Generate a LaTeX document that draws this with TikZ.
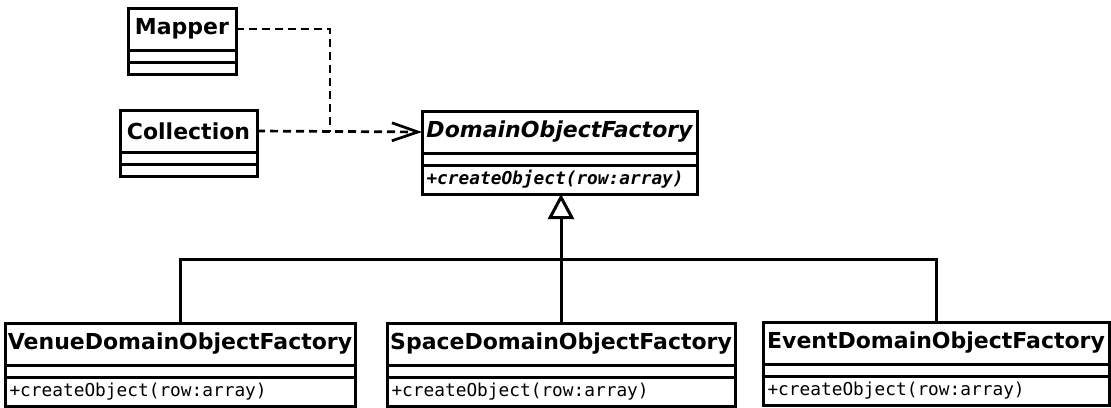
\documentclass[tikz,border=0pt]{standalone}
\usepackage{fontspec}
\setmainfont{DejaVu Sans}
\setmonofont{DejaVu Sans Mono}
\usepackage{tikz}
\usetikzlibrary{positioning}
\usetikzlibrary{arrows,arrows.meta}

\begin{document}
\begin{tikzpicture}[x=1pt, y=-1pt, line width=3pt,
	ctitle/.style={draw, outer sep=0pt, inner sep=0pt, minimum height=42pt, font=\fontsize{22}{26}\selectfont\bfseries},
	cattr/.style={draw, outer sep=0pt, inner sep=0pt, minimum height=12pt},
	cmeth/.style={draw, outer sep=0pt, inner xsep=4.5pt, inner ysep=0pt, minimum height=29pt, align=left, font=\fontsize{17.8}{20}\selectfont\ttfamily},
	dep/.style={dashed, dash pattern=on 8pt off 5pt, line width=2.7pt},
	inh/.style={-{Triangle[open, length=25pt, width=26pt]}}]

	\useasboundingbox (0,0) rectangle (1111,407);

	% Mapper
	\node[ctitle, minimum width=108pt, anchor=north west] (mapper) at (128,8) {Mapper};
	\node[cattr, minimum width=108pt, below=0pt of mapper] (mappera) {};
	\node[cattr, minimum width=108pt, below=0pt of mappera] (mapperm) {};

	% Collection
	\node[ctitle, minimum width=137pt, anchor=north west] (coll) at (120,110) {Collection};
	\node[cattr, minimum width=137pt, below=0pt of coll] (colla) {};
	\node[cattr, minimum width=137pt, below=0pt of colla] (collm) {};

	% DomainObjectFactory
	\node[ctitle, minimum width=275pt, anchor=north west, font=\fontsize{22}{26}\selectfont\bfseries\itshape] (dof) at (422,111) {DomainObjectFactory};
	\node[cattr, minimum width=275pt, below=0pt of dof] (dofa) {};
	\node[cmeth, text width=266pt, below=0pt of dofa, font=\fontsize{17.8}{20}\selectfont\ttfamily\bfseries\itshape] (dofm) {+createObject(row:array)};

	% subclasses
	\node[ctitle, minimum width=350pt, anchor=north west] (venue) at (5,323) {VenueDomainObjectFactory};
	\node[cattr, minimum width=350pt, below=0pt of venue] (venuea) {};
	\node[cmeth, text width=341pt, below=0pt of venuea] (venuem) {+createObject(row:array)};

	\node[ctitle, minimum width=348pt, anchor=north west] (space) at (387,323) {SpaceDomainObjectFactory};
	\node[cattr, minimum width=348pt, below=0pt of space] (spacea) {};
	\node[cmeth, text width=339pt, below=0pt of spacea] (spacem) {+createObject(row:array)};

	\node[ctitle, minimum width=346pt, anchor=north west] (event) at (763,322) {EventDomainObjectFactory};
	\node[cattr, minimum width=346pt, below=0pt of event] (eventa) {};
	\node[cmeth, text width=337pt, below=0pt of eventa] (eventm) {+createObject(row:array)};

	% dependencies
	\coordinate (joint) at (330,131.5);
	\draw[dep] (mapper.east) -| (joint);
	\draw[dep, -{Straight Barb[length=26pt, width=18pt]}] (coll.east) -- (dof.west);

	% inheritance
	\coordinate (bar) at (560,259);
	\draw (venue.north) |- (bar) -| (event.north);
	\draw[inh] (space.north) -- (space.north |- dofm.south);
\end{tikzpicture}
\end{document}
